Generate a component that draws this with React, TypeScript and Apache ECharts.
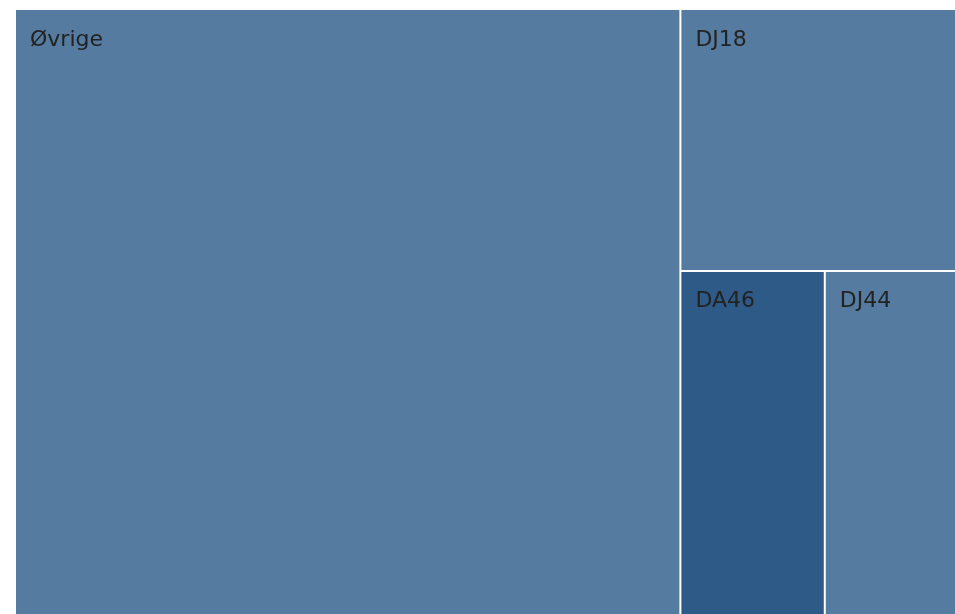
import React, { useEffect, useRef } from "react";
import * as echarts from "echarts";

const names = ["Øvrige", "DJ18", "DA46", "DJ44"];
const values = [401, 71.8, 49.4, 44.9];
const colors = ["#557ca0", "#557ca0", "#2e5a87", "#557ca0"];

export default function App() {
  const ref = useRef<HTMLDivElement>(null);
  useEffect(() => {
    if (!ref.current) return;
    const chart = echarts.init(ref.current, undefined, { renderer: "svg" });
    chart.setOption({
      animation: false,
      series: [
        {
          type: "treemap",
          left: 16,
          top: 10,
          right: 0,
          bottom: 0,
          roam: false,
          nodeClick: false,
          breadcrumb: { show: false },
          squareRatio: 0.5 * (1 + Math.sqrt(5)),
          levels: [
            { itemStyle: { borderWidth: 0, gapWidth: 2, borderColor: "#fff" } },
          ],
          label: {
            show: true,
            position: [9, 12],
            color: "#222",
            fontSize: 22,
            fontFamily: "DejaVu Sans",
            formatter: "{b}",
          },
          upperLabel: { show: false },
          data: names.map((n, i) => ({
            name: n,
            value: values[i],
            itemStyle: { color: colors[i], borderWidth: 0 },
          })),
        },
      ],
    });
    return () => chart.dispose();
  }, []);
  return (
    <div
      ref={ref}
      style={{ position: "fixed", left: 0, top: 0, width: 955, height: 614 }}
    />
  );
}
